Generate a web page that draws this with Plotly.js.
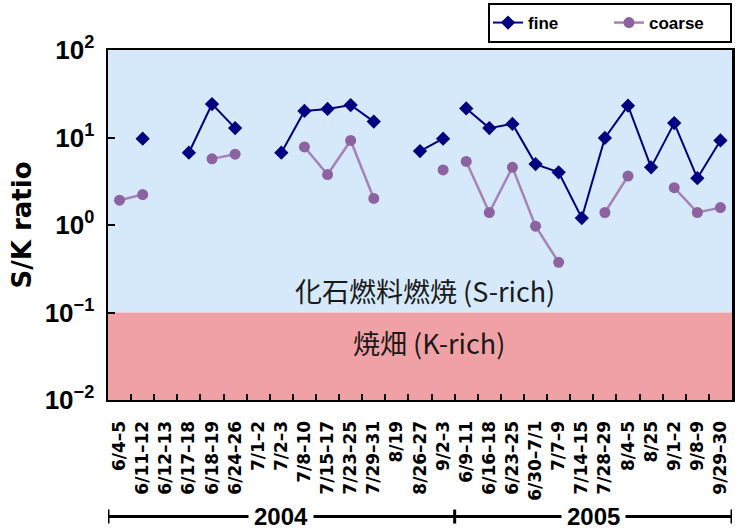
<!DOCTYPE html>
<html>
<head>
<meta charset="utf-8">
<script src="https://cdn.plot.ly/plotly-3.0.1.min.js"></script>
<style>
  html, body { margin: 0; padding: 0; background: #ffffff; }
  #chart { width: 735px; height: 531px; }
</style>
</head>
<body>
<div id="chart"></div>
<script>
// Sampling periods, grouped by year
const periods2004 = ['6/4–5', '6/11–12', '6/12–13', '6/17–18', '6/18–19', '6/24–26', '7/1–2', '7/2–3',
  '7/8–10', '7/15–17', '7/23–25', '7/29–31', '8/19', '8/26–27', '9/2–3'];
const periods2005 = ['6/9–11', '6/16–18', '6/23–25', '6/30–7/1', '7/7–9', '7/14–15', '7/28–29',
  '8/4–5', '8/25', '9/1–2', '9/8–9', '9/29–30'];

// S/K ratio, fine particles (null = no sample)
const fine2004 = [null, 9.7, null, 6.7, 24.1, 12.8, null, 6.7, 20.1, 21.2, 23.5, 15.2, null, 7.0, 9.7];
const fine2005 = [21.5, 12.8, 14.3, 4.97, 4.0, 1.2, 9.9, 23.1, 4.56, 14.6, 3.43, 9.25];

// S/K ratio, coarse particles (null = no sample)
const coarse2004 = [1.92, 2.23, null, null, 5.7, 6.44, null, null, 7.8, 3.77, 9.25, 2.01, null, null, 4.26];
const coarse2005 = [5.33, 1.39, 4.56, 0.97, 0.374, null, 1.39, 3.62, null, 2.67, 1.39, 1.58];

const years = ['2004', '2005'];
const yTickVals = [0.01, 0.1, 1, 10, 100];
const yTickText = ['10<sup>−2</sup>', '10<sup>−1</sup>', '10<sup>0</sup>', '10<sup>1</sup>', '10<sup>2</sup>'];
const zoneLabels = ['化石燃料燃焼 (S-rich)', '焼畑 (K-rich)'];

const allPeriods = periods2004.concat(periods2005);

const SANS = "'Liberation Sans', Arial, sans-serif";
const FINE_COLOR = '#000080';
const COARSE_MARKER = '#8c62a0';
const COARSE_LINE = '#a682b6';

function series(name, x, y, isFine, showlegend) {
  return {
    type: 'scatter',
    mode: 'lines+markers',
    name: name,
    legendgroup: name,
    showlegend: showlegend,
    x: x,
    y: y,
    connectgaps: false,
    line: { color: isFine ? FINE_COLOR : COARSE_LINE, width: isFine ? 2 : 2.5 },
    marker: isFine
      ? { symbol: 'diamond', size: 11, color: FINE_COLOR }
      : { symbol: 'circle', size: 11, color: COARSE_MARKER }
  };
}

const traces = [
  series('fine', periods2004, fine2004, true, true),
  series('fine', periods2005, fine2005, true, false),
  series('coarse', periods2004, coarse2004, false, true),
  series('coarse', periods2005, coarse2005, false, false)
];

// Year brackets below the category labels, spanning each year's periods
const n04 = periods2004.length;
const nAll = allPeriods.length;
const bracketY = -0.333;
const bracketEnds = [-0.5, n04 - 0.5, nAll - 0.5];

const shapes = [
  // fossil-fuel (S-rich) zone: 10^-1 .. 10^2
  { type: 'rect', xref: 'paper', yref: 'paper', x0: 0, x1: 1, y0: 0.25, y1: 1,
    fillcolor: '#d5e9fb', line: { width: 0 }, layer: 'below' },
  // biomass burning (K-rich) zone: 10^-2 .. 10^-1
  { type: 'rect', xref: 'paper', yref: 'paper', x0: 0, x1: 1, y0: 0, y1: 0.25,
    fillcolor: '#f0a1a5', line: { width: 0 }, layer: 'below' },
  { type: 'line', xref: 'x', yref: 'paper', x0: bracketEnds[0], x1: bracketEnds[2],
    y0: bracketY, y1: bracketY, line: { color: '#000', width: 3 } }
];
bracketEnds.forEach(function (xb) {
  shapes.push({ type: 'line', xref: 'x', yref: 'paper', x0: xb, x1: xb,
    y0: bracketY - 0.02, y1: bracketY + 0.02, line: { color: '#000', width: 3 } });
});

const annotations = [
  { xref: 'paper', yref: 'paper', x: 0.508, y: 0.312, xanchor: 'center', yanchor: 'middle',
    text: zoneLabels[0], showarrow: false,
    font: { family: "'Noto Sans CJK JP', sans-serif", size: 27, color: '#1a1a1a' } },
  { xref: 'paper', yref: 'paper', x: 0.515, y: 0.163, xanchor: 'center', yanchor: 'middle',
    text: zoneLabels[1], showarrow: false,
    font: { family: "'Noto Sans CJK JP', sans-serif", size: 27, color: '#1a1a1a' } },
  { xref: 'x', yref: 'paper', x: (bracketEnds[0] + bracketEnds[1]) / 2, y: bracketY,
    xanchor: 'center', yanchor: 'middle', text: years[0],
    showarrow: false, bgcolor: '#ffffff', borderpad: 5,
    font: { family: SANS, weight: 'bold', size: 24, color: '#000' } },
  { xref: 'x', yref: 'paper', x: (bracketEnds[1] + bracketEnds[2]) / 2, y: bracketY,
    xanchor: 'center', yanchor: 'middle', text: years[1],
    showarrow: false, bgcolor: '#ffffff', borderpad: 5,
    font: { family: SANS, weight: 'bold', size: 24, color: '#000' } }
];

const layout = {
  width: 735,
  height: 531,
  margin: { l: 108, r: 3, t: 45, b: 131 },
  paper_bgcolor: '#ffffff',
  plot_bgcolor: 'rgba(0,0,0,0)',
  showlegend: true,
  legend: {
    orientation: 'h',
    x: 1, xanchor: 'right',
    y: 1.02, yanchor: 'bottom',
    bgcolor: '#ffffff',
    bordercolor: '#000000',
    borderwidth: 2,
    entrywidth: 76,
    tracegroupgap: 0,
    font: { family: SANS, weight: 'bold', size: 17, color: '#000' }
  },
  xaxis: {
    type: 'category',
    categoryorder: 'array',
    categoryarray: allPeriods,
    range: [-0.5, nAll - 0.5],
    tickangle: -90,
    ticks: 'inside',
    tickson: 'boundaries',
    ticklen: 6,
    tickwidth: 2,
    tickcolor: '#000',
    showline: true,
    linecolor: '#000',
    linewidth: 2,
    mirror: true,
    showgrid: false,
    zeroline: false,
    ticklabelstandoff: 12,
    tickfont: { family: "'DejaVu Sans', sans-serif", weight: 'bold', size: 17, color: '#000' }
  },
  yaxis: {
    type: 'log',
    range: [-2, 2],
    tickvals: yTickVals,
    ticktext: yTickText,
    ticks: 'inside',
    ticklen: 7,
    tickwidth: 2,
    tickcolor: '#000',
    showline: true,
    linecolor: '#000',
    linewidth: 2.5,
    mirror: true,
    showgrid: false,
    zeroline: false,
    ticklabelstandoff: 6,
    tickfont: { family: SANS, weight: 'bold', size: 26, color: '#000' },
    title: {
      text: 'S/K ratio',
      standoff: 6,
      font: { family: "'DejaVu Sans', sans-serif", weight: 'bold', size: 26, color: '#000' }
    }
  },
  shapes: shapes,
  annotations: annotations
};

Plotly.newPlot('chart', traces, layout, { displayModeBar: false, staticPlot: true });
</script>
</body>
</html>
